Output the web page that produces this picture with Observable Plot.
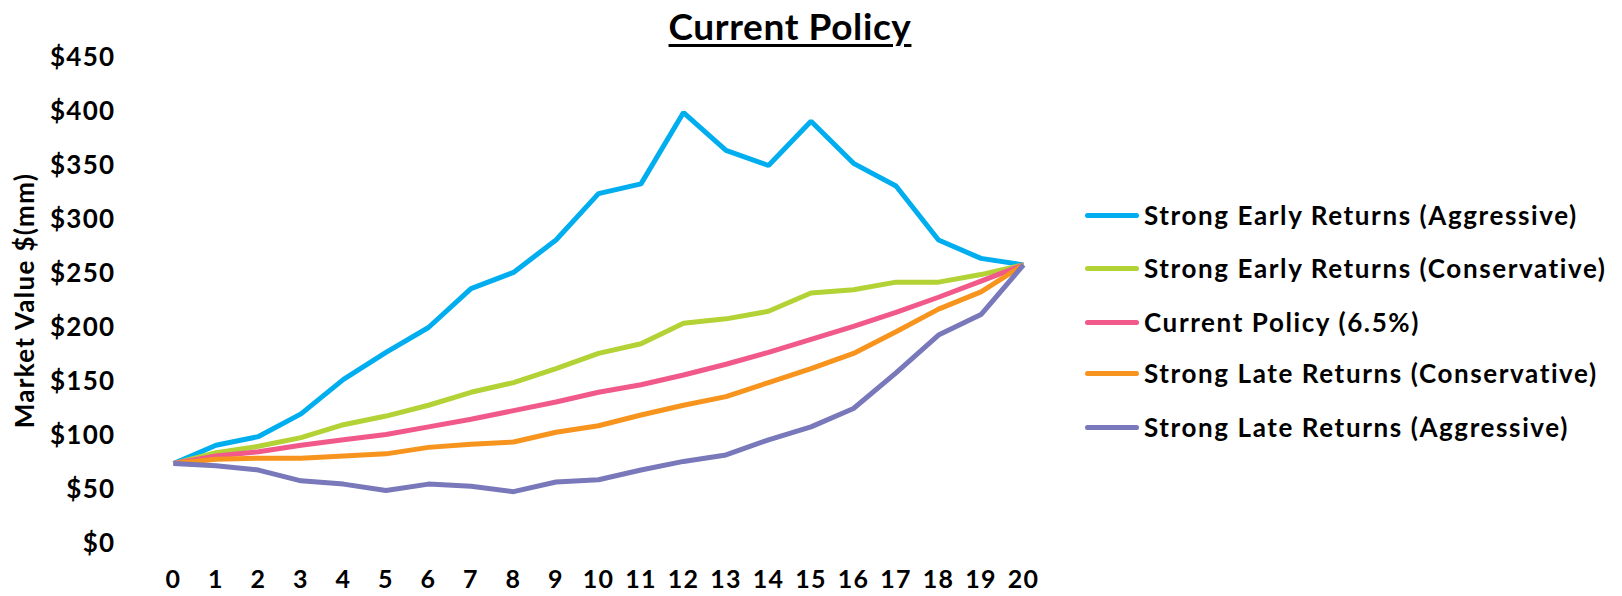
<!DOCTYPE html>
<html>
<head>
<meta charset="utf-8">
<script src="https://cdn.jsdelivr.net/npm/d3@7"></script>
<script src="https://cdn.jsdelivr.net/npm/@observablehq/plot@0.6"></script>
<style>
  html, body { margin: 0; padding: 0; background: #fff; }
  #wrap { position: relative; width: 1622px; height: 596px; overflow: hidden; font-family: Lato, "DejaVu Sans", sans-serif; }
  #title { position: absolute; left: 0; width: 1580px; top: 6px; text-align: center; font-family: Lato, sans-serif; font-weight: 700; font-size: 37px; letter-spacing: 0.6px; line-height: 40px; text-decoration: underline; text-decoration-thickness: 3px; text-underline-offset: 4px; color: #000; }
  #chart { position: absolute; left: 0; top: 46px; }
  #chart svg text { letter-spacing: 1.3px; }
  #legend { position: absolute; left: 1085px; top: 0; }
  .row { position: absolute; left: 0; display: flex; align-items: center; white-space: nowrap; font-weight: 700; font-size: 26px; letter-spacing: 1.6px; color: #000; height: 30px; }
  .sw { width: 54px; height: 5px; border-radius: 3px; margin-right: 5px; }
</style>
</head>
<body>
<div id="wrap">
  <div id="title">Current Policy</div>
  <div id="chart"></div>
  <div id="legend"></div>
</div>
<script>
const years = [0,1,2,3,4,5,6,7,8,9,10,11,12,13,14,15,16,17,18,19,20];
const yTicks = [0,50,100,150,200,250,300,350,400,450];
const seriesNames = [
  "Strong Early Returns (Aggressive)",
  "Strong Early Returns (Conservative)",
  "Current Policy (6.5%)",
  "Strong Late Returns (Conservative)",
  "Strong Late Returns (Aggressive)"
];
const seriesColors = ["#00AEEF", "#B2D235", "#F0598A", "#F7941D", "#7878BA"];
const earlyAggressive    = [74, 91, 99, 120, 152, 177, 200, 236, 251, 281, 324, 333, 399, 364, 350, 391, 352, 331, 281, 264, 258];
const earlyConservative  = [74, 84, 90, 98, 110, 118, 128, 140, 149, 162, 176, 185, 204, 208, 215, 232, 235, 242, 242, 249, 258];
const currentPolicy      = [74, 81, 85, 91, 96, 101, 108, 115, 123, 131, 140, 147, 156, 166, 177, 189, 201, 214, 228, 243, 258];
const lateConservative   = [74, 78, 79, 79, 81, 83, 89, 92, 94, 103, 109, 119, 128, 136, 149, 162, 176, 196, 217, 233, 258];
const lateAggressive     = [74, 72, 68, 58, 55, 49, 55, 53, 48, 57, 59, 68, 76, 82, 96, 108, 125, 158, 193, 212, 258];

const allSeries = [earlyAggressive, earlyConservative, currentPolicy, lateConservative, lateAggressive];
const data = [];
allSeries.forEach((vals, s) => {
  vals.forEach((v, i) => data.push({series: seriesNames[s], year: years[i], value: v}));
});

// SVG starts at page y=46; height 550 → bottom at page 596
const chart = Plot.plot({
  width: 1622,
  height: 550,
  marginLeft: 173,
  marginRight: 599,
  marginTop: 11,
  marginBottom: 53,
  style: {fontFamily: "Lato, sans-serif", fontWeight: 700, fontSize: "26px", color: "#000", background: "transparent", overflow: "visible"},
  x: {domain: [0, 20]},
  y: {domain: [0, 450]},
  color: {domain: seriesNames, range: seriesColors},
  marks: [
    Plot.axisX({ticks: years, tickFormat: d => String(d), tickSize: 0, tickPadding: 27, fontSize: 25, label: null}),
    Plot.axisY({ticks: yTicks, tickFormat: d => "$" + d, tickSize: 0, tickPadding: 58,
                label: "Market Value $(mm)", labelAnchor: "center", labelOffset: 158, labelArrow: "none"}),
    Plot.line(data, {x: "year", y: "value", z: "series", stroke: "series", strokeWidth: 5,
                     strokeLinejoin: "miter", strokeLinecap: "butt"})
  ]
});
document.getElementById("chart").appendChild(chart);

const legend = document.getElementById("legend");
const rowCenters = [215, 268, 322, 373, 427];
seriesNames.forEach((name, i) => {
  const row = document.createElement("div");
  row.className = "row";
  row.style.top = (rowCenters[i] - 15) + "px";
  const sw = document.createElement("div");
  sw.className = "sw";
  sw.style.background = seriesColors[i];
  const t = document.createElement("span");
  t.textContent = name;
  row.appendChild(sw);
  row.appendChild(t);
  legend.appendChild(row);
});
</script>
</body>
</html>
